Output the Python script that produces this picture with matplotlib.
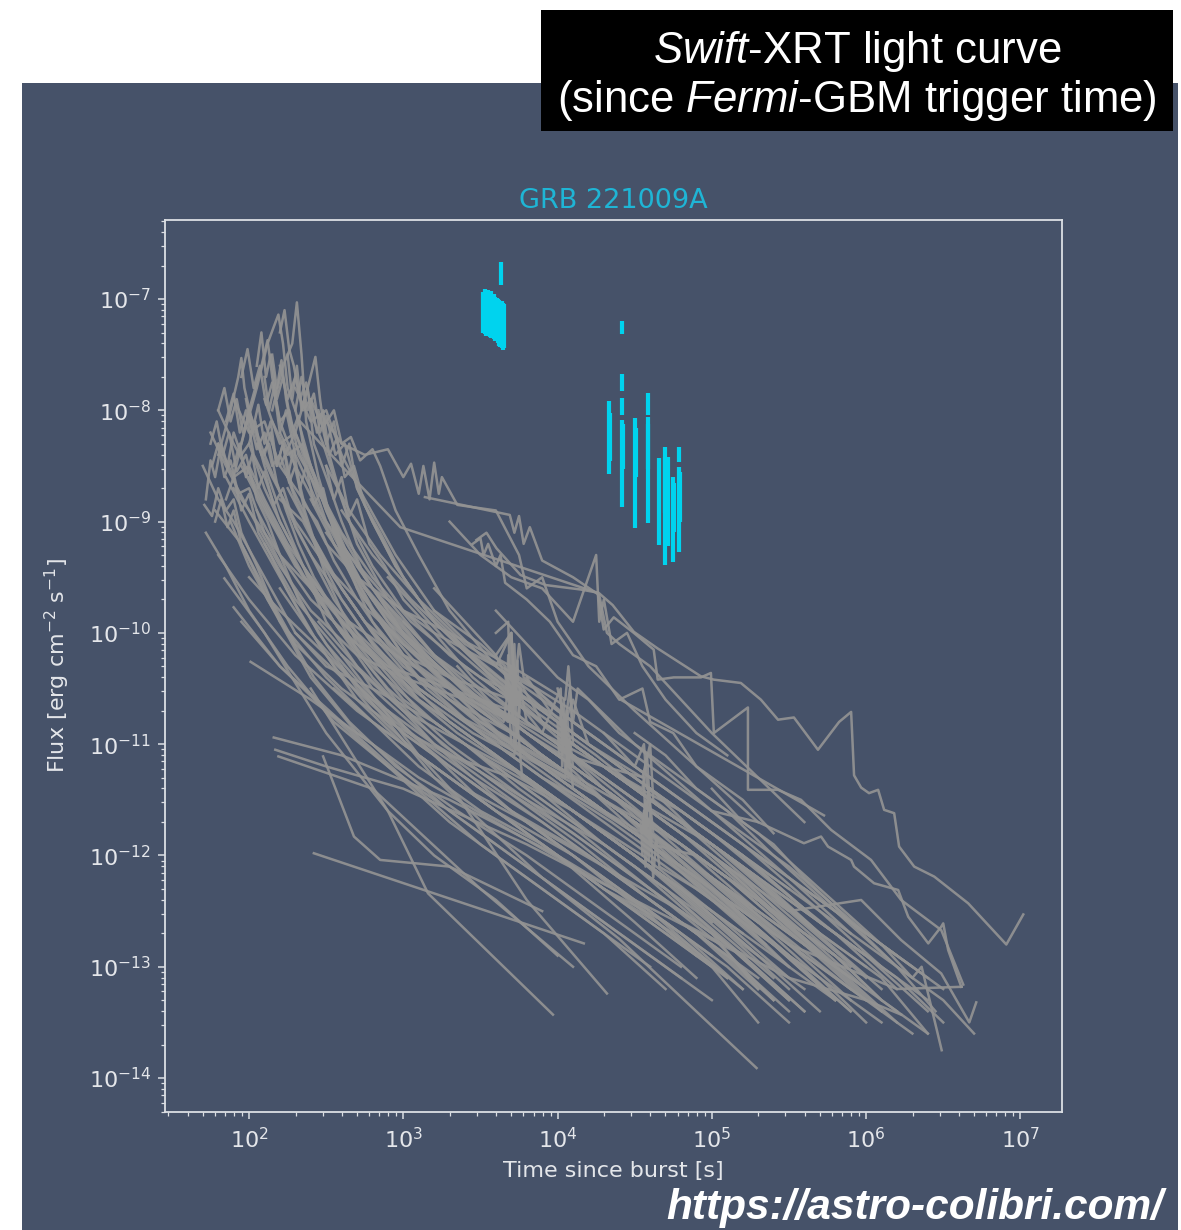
import numpy as np
import matplotlib
matplotlib.use("Agg")
import matplotlib.pyplot as plt
from matplotlib.patches import Rectangle
from matplotlib.ticker import LogLocator, NullFormatter, FixedLocator

# ---------------------------------------------------------------------------
# Archival Swift-XRT light curves, stored as (log10 t [s], log10 F [erg/cm2/s])
# ---------------------------------------------------------------------------
# early, flaring, bright bursts
lc_a1 = [(2.15,-8.0),(2.22,-7.6),(2.28,-7.4),(2.31,-7.03),(2.34,-7.5),(2.37,-8.1),(2.45,-8.6),(2.6,-9.3),(2.8,-9.9),(3.1,-10.4),(3.6,-10.9),(4.1,-11.3),(4.6,-11.8),(5.1,-12.3),(5.6,-12.9)]
lc_a2 = [(1.95,-8.3),(2.05,-7.8),(2.12,-7.4),(2.16,-7.25),(2.19,-7.14),(2.22,-7.4),(2.25,-7.8),(2.3,-8.0),(2.4,-8.5),(2.55,-9.0),(2.7,-9.6),(3.0,-10.2),(3.5,-10.8),(4.0,-11.2),(4.5,-11.6),(5.0,-12.1),(5.5,-12.6),(5.9,-13.0)]
lc_a3 = [(1.9,-8.6),(2.0,-8.0),(2.08,-7.6),(2.12,-7.37),(2.15,-7.7),(2.2,-8.1),(2.28,-8.4),(2.36,-8.9),(2.5,-9.5),(2.7,-10.1),(3.0,-10.6),(3.5,-11.1),(4.0,-11.5),(4.6,-12.1),(5.2,-12.7)]
lc_a4 = [(1.8,-8.4),(1.88,-8.0),(1.93,-7.7),(1.95,-7.53),(1.97,-7.8),(2.02,-8.1),(2.1,-8.5),(2.2,-8.9),(2.35,-9.4),(2.5,-9.9),(2.8,-10.5),(3.2,-11.0),(3.8,-11.5),(4.3,-11.9),(4.9,-12.5),(5.4,-13.1)]
lc_a5 = [(2.2,-8.5),(2.3,-8.2),(2.38,-7.8),(2.43,-7.52),(2.46,-7.9),(2.5,-8.3),(2.58,-8.7),(2.7,-9.2),(2.9,-9.7),(3.2,-10.2),(3.6,-10.6),(4.0,-11.0),(4.5,-11.5),(5.0,-11.9),(5.5,-12.4),(6.0,-12.9)]
lc_a6 = [(2.2,-7.6),(2.25,-7.9),(2.3,-7.7),(2.35,-8.0),(2.4,-7.9),(2.48,-8.15),(2.55,-8.0),(2.6,-8.3),(2.66,-8.24),(2.72,-8.45),(2.8,-8.35),(2.85,-8.5),(2.95,-8.9),(3.1,-9.3),(3.3,-9.8),(3.6,-10.3),(4.0,-10.8),(4.5,-11.3),(5.0,-11.8),(5.5,-12.3)]
lc_a7 = [(1.72,-8.8),(1.75,-8.45),(1.78,-8.6),(1.82,-8.3),(1.86,-8.5),(1.9,-8.2),(1.95,-8.4),(2.0,-8.3),(2.1,-8.7),(2.2,-9.0),(2.35,-9.4),(2.5,-9.8),(2.8,-10.4),(3.2,-11.0),(3.7,-11.6),(4.2,-12.0),(4.8,-12.6),(5.3,-13.1)]
lc_a8 = [(1.71,-8.85),(1.76,-8.95),(1.8,-8.7),(1.85,-8.9),(1.9,-8.8),(1.95,-9.1),(2.05,-9.4),(2.2,-9.9),(2.4,-10.4),(2.7,-10.9),(3.1,-11.3),(3.6,-11.7),(4.1,-12.1),(4.6,-12.6),(5.1,-13.1)]
lc_a9 = [(2.5,-8.1),(2.6,-8.3),(2.75,-8.4),(2.9,-8.35),(3.0,-8.6),(3.05,-8.48),(3.1,-8.75),(3.13,-8.5),(3.17,-8.8),(3.2,-8.47),(3.23,-8.75),(3.25,-8.6),(3.35,-8.85),(3.6,-8.9),(3.75,-9.3),(3.8,-9.6),(3.9,-9.5),(4.0,-9.9),(4.2,-10.3),(4.5,-10.7),(4.9,-11.2),(5.3,-11.7)]
lc_a10 = [(3.14,-8.78),(3.69,-8.94),(3.72,-9.1),(3.75,-8.95),(3.78,-9.2),(3.82,-9.05),(3.9,-9.35),(4.1,-9.5),(4.27,-9.66),(4.32,-10.0),(4.4,-10.1),(4.6,-10.3),(4.8,-10.6),(5.0,-10.9),(5.3,-11.3),(5.6,-11.7)]

# long-lived, bright late-time afterglows
lc_b1 = [(3.474,-9.165),(3.539,-9.10),(3.604,-9.24),(3.76,-9.48),(3.922,-9.57),(4.149,-9.61),(4.266,-9.64),(4.357,-9.75),(4.494,-9.99),(4.649,-10.14),(4.929,-10.39),(5.013,-10.42),(5.188,-10.45),(5.318,-10.60),(5.429,-10.78),(5.532,-10.76),(5.688,-11.05),(5.825,-10.80),(5.903,-10.71),(5.922,-11.28),(5.968,-11.39),(6.019,-11.44),(6.078,-11.41),(6.117,-11.59),(6.182,-11.62),(6.214,-11.92),(6.312,-12.10),(6.442,-12.19),(6.662,-12.43),(6.909,-12.80),(7.019,-12.53)]
lc_b2 = [(2.33,-8.1),(2.6,-8.5),(2.981,-9.05),(4.26,-9.64),(4.299,-9.97),(4.364,-9.86),(4.494,-10.00),(4.623,-10.15),(4.649,-10.42),(4.753,-10.40),(4.929,-10.40),(4.994,-10.36),(5.013,-10.90),(5.234,-10.67),(5.234,-11.41),(5.429,-11.41),(5.578,-11.50),(5.773,-11.77),(6.032,-12.04),(6.227,-12.40),(6.487,-12.67),(6.63,-13.16)]
lc_b3 = [(3.3,-9.0),(3.5,-9.3),(3.7,-9.5),(3.9,-9.6),(4.1,-9.9),(4.25,-9.3),(4.27,-9.9),(4.3,-9.7),(4.35,-10.1),(4.45,-10.0),(4.55,-10.3),(4.7,-10.6),(4.9,-10.9),(5.1,-11.1)]
lc_b4 = [(3.45,-9.2),(3.5,-9.15),(3.52,-9.3),(3.55,-9.2),(3.6,-9.4),(3.63,-9.3),(3.66,-9.55),(3.8,-9.7),(3.95,-9.9),(4.1,-10.2),(4.25,-10.3),(4.4,-10.6),(4.55,-10.5),(4.6,-10.8),(4.75,-10.9),(4.9,-11.2),(5.2,-11.5),(5.4,-11.8)]

# canonical steep-decay / plateau / normal-decay light curves
lc_c01 = [(1.75,-8.2),(1.85,-8.5),(2.0,-8.9),(2.2,-9.4),(2.4,-9.8),(2.7,-10.2),(3.0,-10.4),(3.4,-10.6),(3.7,-10.9),(4.0,-11.2),(4.4,-11.6),(4.8,-12.1),(5.2,-12.6),(5.5,-13.0)]
lc_c02 = [(1.8,-8.0),(1.9,-8.3),(2.05,-8.7),(2.2,-9.1),(2.4,-9.6),(2.6,-10.0),(2.9,-10.3),(3.3,-10.5),(3.7,-10.7),(3.72,-10.4),(3.74,-10.9),(3.76,-10.5),(3.8,-10.8),(4.1,-11.1),(4.5,-11.5),(5.0,-12.0),(5.4,-12.5),(5.8,-13.0)]
lc_c03 = [(1.7,-8.5),(1.8,-8.8),(1.9,-9.0),(2.1,-9.5),(2.3,-10.0),(2.5,-10.3),(2.8,-10.5),(3.2,-10.8),(3.6,-11.2),(4.0,-11.6),(4.5,-12.1),(5.0,-12.7),(5.3,-13.2)]
lc_c04 = [(1.9,-7.9),(2.0,-8.2),(2.1,-8.1),(2.2,-8.5),(2.35,-8.8),(2.5,-9.2),(2.7,-9.5),(3.0,-9.8),(3.3,-10.0),(3.7,-10.3),(4.05,-10.6),(4.07,-10.3),(4.1,-10.8),(4.13,-10.5),(4.5,-11.0),(5.0,-11.6),(5.5,-12.2),(5.9,-12.7)]
lc_c05 = [(2.0,-8.0),(2.1,-8.4),(2.25,-8.9),(2.4,-9.3),(2.6,-9.7),(2.8,-10.1),(3.1,-10.5),(3.5,-10.9),(3.9,-11.3),(4.3,-11.6),(4.55,-11.8),(4.57,-11.5),(4.6,-11.9),(4.9,-12.2),(5.3,-12.6),(5.7,-13.1)]
lc_c06 = [(1.85,-8.6),(2.0,-9.0),(2.2,-9.5),(2.45,-10.1),(2.7,-10.6),(3.0,-11.0),(3.4,-11.4),(3.8,-11.7),(4.3,-12.1),(4.8,-12.5),(5.2,-12.9),(5.6,-13.4)]
lc_c07 = [(2.05,-8.3),(2.15,-8.6),(2.3,-9.0),(2.5,-9.4),(2.75,-9.9),(3.0,-10.2),(3.3,-10.4),(3.7,-10.6),(4.0,-10.9),(4.5,-11.4),(5.0,-11.9),(5.5,-12.5),(6.0,-13.1)]
lc_c08 = [(2.1,-7.9),(2.2,-8.3),(2.3,-8.2),(2.4,-8.6),(2.55,-9.0),(2.8,-9.6),(3.1,-10.1),(3.5,-10.6),(3.9,-11.0),(4.3,-11.4),(4.8,-11.9),(5.3,-12.4),(5.8,-12.9),(6.1,-13.3)]
lc_c09 = [(1.78,-8.9),(1.95,-9.2),(2.1,-9.6),(2.3,-10.1),(2.6,-10.5),(2.9,-10.8),(3.3,-11.1),(3.7,-11.3),(4.1,-11.6),(4.6,-12.1),(5.1,-12.7),(5.5,-13.2)]
lc_c10 = [(2.2,-8.2),(2.3,-8.5),(2.45,-8.9),(2.65,-9.3),(2.9,-9.7),(3.2,-10.0),(3.6,-10.3),(3.7,-10.0),(3.72,-10.5),(3.75,-10.1),(3.78,-10.4),(4.0,-10.7),(4.4,-11.1),(4.9,-11.6),(5.4,-12.1),(5.9,-12.6),(6.3,-13.0)]
lc_c11 = [(1.95,-8.5),(2.1,-8.9),(2.3,-9.4),(2.6,-9.9),(2.9,-10.3),(3.3,-10.7),(3.7,-11.0),(4.05,-11.3),(4.07,-11.0),(4.1,-11.4),(4.5,-11.8),(5.0,-12.3),(5.4,-12.8),(5.8,-13.3)]
lc_c12 = [(2.3,-8.3),(2.4,-8.6),(2.55,-9.0),(2.7,-9.5),(2.9,-9.9),(3.2,-10.3),(3.5,-10.6),(3.9,-10.9),(4.3,-11.2),(4.55,-11.4),(4.58,-11.1),(4.6,-11.6),(5.0,-12.0),(5.4,-12.5),(5.8,-13.0),(6.2,-13.5)]
lc_c13 = [(1.88,-9.0),(2.0,-9.4),(2.2,-9.9),(2.5,-10.4),(2.8,-10.8),(3.2,-11.2),(3.6,-11.6),(4.1,-12.0),(4.6,-12.5),(5.1,-13.1)]
lc_c14 = [(2.0,-8.6),(2.15,-9.0),(2.35,-9.5),(2.6,-10.0),(2.9,-10.5),(3.3,-11.0),(3.7,-11.4),(4.2,-11.9),(4.7,-12.4),(5.2,-12.9),(5.6,-13.4)]
lc_c15 = [(2.3,-7.8),(2.4,-8.1),(2.5,-8.0),(2.6,-8.4),(2.75,-8.8),(2.95,-9.3),(3.2,-9.8),(3.5,-10.2),(3.9,-10.6),(4.3,-11.0),(4.7,-11.4),(5.2,-11.9),(5.7,-12.4),(6.2,-12.9)]
lc_c16 = [(2.4,-8.8),(2.55,-9.2),(2.75,-9.6),(3.0,-10.0),(3.3,-10.4),(3.65,-10.8),(3.68,-10.5),(3.7,-11.0),(4.0,-11.3),(4.4,-11.7),(4.9,-12.2),(5.4,-12.8),(5.8,-13.3)]
lc_c17 = [(2.5,-9.1),(2.7,-9.5),(3.0,-10.0),(3.3,-10.5),(3.7,-11.0),(4.1,-11.4),(4.5,-11.8),(5.0,-12.3),(5.5,-12.9),(5.9,-13.4)]
lc_c18 = [(1.8,-9.3),(2.0,-9.7),(2.3,-10.2),(2.7,-10.7),(3.1,-11.1),(3.5,-11.5),(4.0,-12.0),(4.5,-12.6),(4.9,-13.1)]
lc_c19 = [(2.1,-9.2),(2.3,-9.7),(2.6,-10.2),(3.0,-10.7),(3.4,-11.0),(3.8,-11.3),(4.2,-11.7),(4.7,-12.2),(5.2,-12.8),(5.6,-13.2)]
lc_c20 = [(2.6,-8.9),(2.8,-9.3),(3.05,-9.7),(3.35,-10.1),(3.7,-10.5),(4.05,-10.8),(4.08,-10.5),(4.1,-11.0),(4.5,-11.4),(5.0,-11.9),(5.5,-12.4),(6.0,-12.9),(6.4,-13.3)]
lc_c21 = [(1.9,-8.7),(2.05,-9.0),(2.2,-9.3),(2.4,-9.6),(2.65,-9.9),(2.95,-10.2),(3.3,-10.5),(3.7,-10.8),(4.1,-11.2),(4.5,-11.6),(5.0,-12.2),(5.5,-12.8),(5.9,-13.3)]
lc_c22 = [(2.25,-8.7),(2.4,-9.1),(2.6,-9.6),(2.85,-10.1),(3.1,-10.5),(3.5,-10.9),(3.9,-11.2),(4.3,-11.5),(4.8,-11.9),(5.3,-12.4),(5.7,-12.9),(6.1,-13.4)]
lc_c23 = [(2.0,-9.5),(2.2,-9.8),(2.5,-10.2),(2.8,-10.6),(3.2,-11.0),(3.6,-11.4),(4.0,-11.8),(4.5,-12.3),(5.0,-12.8),(5.4,-13.3)]
lc_c24 = [(2.7,-9.4),(2.9,-9.8),(3.15,-10.2),(3.45,-10.6),(3.8,-11.0),(4.2,-11.4),(4.6,-11.8),(5.1,-12.3),(5.6,-12.8),(6.0,-13.2)]
lc_c25 = [(2.15,-8.1),(2.25,-8.4),(2.35,-8.3),(2.45,-8.7),(2.6,-9.1),(2.8,-9.5),(3.05,-9.9),(3.4,-10.3),(3.8,-10.7),(4.2,-11.1),(4.6,-11.5),(5.1,-12.0),(5.6,-12.6),(6.1,-13.2)]
lc_c26 = [(1.72,-9.1),(1.85,-9.4),(2.0,-9.8),(2.25,-10.3),(2.55,-10.8),(2.9,-11.2),(3.3,-11.6),(3.8,-12.1),(4.3,-12.6),(4.8,-13.1)]
lc_c27 = [(2.35,-9.4),(2.55,-9.8),(2.8,-10.2),(3.1,-10.6),(3.5,-11.0),(3.9,-11.4),(4.3,-11.8),(4.8,-12.3),(5.3,-12.9),(5.7,-13.4)]
lc_c28 = [(2.8,-9.8),(3.0,-10.1),(3.3,-10.5),(3.6,-10.9),(4.0,-11.3),(4.4,-11.7),(4.9,-12.2),(5.4,-12.7),(5.9,-13.2),(6.3,-13.6)]
lc_c29 = [(2.05,-8.9),(2.2,-9.3),(2.4,-9.7),(2.7,-10.1),(3.05,-10.5),(3.45,-10.9),(3.72,-11.1),(3.74,-10.8),(3.77,-11.3),(4.1,-11.6),(4.55,-12.0),(5.0,-12.5),(5.5,-13.1)]
lc_c30 = [(3.0,-10.4),(3.3,-10.8),(3.6,-11.1),(4.0,-11.5),(4.4,-11.9),(4.8,-12.3),(5.3,-12.8),(5.8,-13.3)]
lc_c31 = [(2.5,-8.5),(2.65,-8.9),(2.85,-9.3),(3.1,-9.7),(3.4,-10.1),(3.75,-10.4),(4.1,-10.7),(4.5,-11.1),(5.0,-11.6),(5.5,-12.1),(6.0,-12.7),(6.4,-13.1)]
lc_c32 = [(2.3,-10.0),(2.6,-10.4),(3.0,-10.9),(3.4,-11.3),(3.8,-11.7),(4.3,-12.2),(4.8,-12.7),(5.2,-13.2)]
lc_c33 = [(3.6,-10.2),(3.7,-10.5),(3.9,-10.7),(4.2,-11.0),(4.55,-11.3),(4.6,-11.0),(4.62,-11.5),(5.0,-11.9),(5.5,-12.4),(6.0,-12.9),(6.4,-13.4)]
lc_c34 = [(1.95,-9.9),(2.2,-10.3),(2.5,-10.7),(2.9,-11.2),(3.3,-11.7),(3.8,-12.2),(4.3,-12.7),(4.7,-13.2)]
lc_c35 = [(2.2,-8.8),(2.35,-9.0),(2.5,-9.4),(2.7,-9.7),(3.0,-10.1),(3.4,-10.5),(3.85,-10.9),(4.3,-11.3),(4.8,-11.8),(5.3,-12.4),(5.8,-13.0)]
lc_c36 = [(4.0,-10.5),(4.05,-10.8),(4.1,-10.6),(4.2,-11.0),(4.5,-11.3),(4.9,-11.7),(5.4,-12.2),(5.9,-12.7),(6.3,-13.1)]
lc_c37 = [(2.6,-9.6),(2.8,-10.0),(3.1,-10.4),(3.5,-10.9),(3.9,-11.3),(4.3,-11.7),(4.7,-12.1),(5.2,-12.6),(5.7,-13.1),(6.1,-13.5)]
lc_c38 = [(1.8,-8.3),(1.9,-8.6),(2.0,-8.5),(2.1,-8.8),(2.25,-9.2),(2.45,-9.6),(2.7,-10.0),(3.0,-10.4),(3.4,-10.8),(3.8,-11.1),(4.2,-11.4),(4.7,-11.9),(5.2,-12.4),(5.7,-12.9)]
lc_c39 = [(2.45,-9.9),(2.7,-10.3),(3.0,-10.7),(3.35,-11.1),(3.75,-11.5),(4.15,-11.9),(4.6,-12.4),(5.1,-12.9),(5.5,-13.4)]
lc_c40 = [(3.3,-10.0),(3.5,-10.3),(3.7,-10.6),(4.0,-10.9),(4.4,-11.3),(4.8,-11.6),(5.2,-12.0),(5.7,-12.6),(6.2,-13.1),(6.5,-13.5)]

# faint and sparsely sampled bursts
lc_d01 = [(1.84,-9.51),(2.1,-10.0),(2.5,-10.9),(2.9,-11.6),(3.2,-12.0),(3.6,-12.4),(4.0,-12.9)]
lc_d02 = [(1.90,-9.77),(2.2,-10.3),(2.6,-10.8),(3.0,-11.3),(3.5,-11.9),(4.0,-12.4),(4.6,-13.0)]
lc_d03 = [(2.01,-10.26),(2.4,-10.6),(2.8,-11.0),(3.3,-11.6),(3.9,-12.2),(4.5,-12.8),(5.0,-13.3)]
lc_d04 = [(2.16,-10.94),(2.6,-11.1),(3.3,-11.5),(4.0,-12.0),(4.6,-12.5),(5.0,-12.9)]
lc_d05 = [(2.17,-11.05),(2.5,-11.2),(3.0,-11.4),(3.8,-11.9),(4.5,-12.4),(5.2,-12.9)]
lc_d06 = [(2.19,-11.11),(2.8,-11.4),(3.5,-12.3),(4.1,-13.0)]
lc_d07 = [(2.42,-11.98),(4.17,-12.79)]
lc_d08 = [(2.4,-10.5),(2.9,-11.6),(3.16,-12.34),(3.97,-13.43)]
lc_d09 = [(2.6,-10.2),(3.1,-11.1),(3.37,-11.5),(3.8,-12.4),(4.32,-13.24)]
lc_d10 = [(2.6,-10.3),(3.2,-11.3),(3.9,-12.2),(4.4,-12.75),(5.29,-13.91)]
lc_d11 = [(2.48,-11.11),(2.68,-11.83),(2.85,-12.04),(3.3,-12.1),(3.9,-12.5)]
lc_d12 = [(5.6,-12.3),(5.9,-12.6),(6.1,-12.8),(6.3,-13.1),(6.36,-13.0),(6.49,-13.75)]
lc_d13 = [(5.0,-12.0),(5.5,-12.5),(5.968,-12.40),(6.227,-12.76),(6.487,-13.06),(6.669,-13.50),(6.714,-13.32)]
lc_d14 = [(5.0,-11.6),(5.3,-11.7),(5.597,-11.89),(5.708,-11.83),(5.753,-11.92),(5.903,-12.04),(5.922,-12.10),(6.052,-12.25),(6.208,-12.31),(6.273,-12.55),(6.403,-12.79),(6.487,-12.64),(6.5,-12.61),(6.532,-12.85),(6.617,-13.18)]
lc_d15 = [(4.409,-10.60),(5.727,-11.64)]
lc_d16 = [(4.8,-12.6),(5.5,-13.1),(6.0,-13.3),(6.227,-13.43)]
lc_d17 = [(5.5,-12.8),(6.2,-13.2),(6.62,-13.18)]

# densely sampled orbits (rapid variability)
lc_f1 = [(3.2,-9.8),(3.5,-10.1),(3.66,-10.3),(3.67,-10.6),(3.68,-10.2),(3.69,-10.7),(3.70,-10.3),(3.71,-10.8),(3.72,-10.4),(3.73,-10.65),(3.74,-10.25),(3.75,-10.75),(3.76,-10.45),(3.9,-10.8),(4.2,-11.1),(4.6,-11.5),(5.1,-12.0),(5.6,-12.6),(6.0,-13.0)]
lc_f2 = [(3.5,-10.4),(3.8,-10.6),(4.0,-10.8),(4.01,-11.1),(4.02,-10.7),(4.03,-11.2),(4.04,-10.8),(4.05,-11.25),(4.06,-10.9),(4.07,-11.3),(4.08,-10.95),(4.1,-11.2),(4.4,-11.5),(4.8,-11.9),(5.3,-12.4),(5.8,-12.9)]
lc_f3 = [(4.0,-11.0),(4.3,-11.4),(4.54,-11.7),(4.55,-12.0),(4.56,-11.6),(4.57,-12.1),(4.58,-11.7),(4.59,-12.05),(4.6,-11.75),(4.62,-12.2),(4.64,-11.85),(4.66,-12.1),(4.9,-12.3),(5.3,-12.7),(5.7,-13.1),(6.0,-13.5)]
lc_f4 = [(3.6,-10.0),(3.68,-9.9),(3.69,-10.4),(3.7,-10.0),(3.71,-10.5),(3.72,-10.1),(3.73,-10.6),(3.9,-10.9),(4.02,-10.5),(4.03,-11.0),(4.04,-10.6),(4.06,-11.1),(4.3,-11.2),(4.56,-11.3),(4.57,-11.8),(4.59,-11.4),(4.61,-11.9),(4.9,-12.0),(5.4,-12.5),(5.9,-13.1)]
lc_g1 = [(1.98,-7.9),(2.02,-8.2),(2.06,-7.95),(2.1,-8.3),(2.14,-8.1),(2.18,-8.5),(2.22,-8.3),(2.28,-8.7),(2.35,-8.9),(2.45,-9.3),(2.6,-9.7),(2.8,-10.1),(3.1,-10.6),(3.5,-11.0),(4.0,-11.5),(4.5,-12.0),(5.0,-12.6)]
lc_g2 = [(2.25,-7.5),(2.28,-7.9),(2.31,-7.6),(2.34,-8.0),(2.38,-7.8),(2.42,-8.3),(2.5,-8.6),(2.6,-9.0),(2.75,-9.5),(3.0,-10.0),(3.3,-10.4),(3.7,-10.8),(4.1,-11.2),(4.6,-11.7),(5.1,-12.2),(5.6,-12.8)]
lc_g3 = [(2.1,-7.7),(2.13,-8.0),(2.16,-7.8),(2.2,-8.2),(2.24,-8.0),(2.3,-8.4),(2.4,-8.7),(2.55,-9.2),(2.75,-9.7),(3.0,-10.1),(3.4,-10.6),(3.8,-11.0),(4.3,-11.5),(4.8,-12.0),(5.3,-12.6)]
lc_g4 = [(1.85,-8.1),(1.9,-7.85),(1.94,-8.2),(1.98,-8.0),(2.03,-8.4),(2.1,-8.6),(2.2,-9.0),(2.35,-9.4),(2.55,-9.9),(2.8,-10.3),(3.2,-10.8),(3.7,-11.3),(4.2,-11.8),(4.7,-12.3),(5.2,-12.9)]
lc_g5 = [(2.45,-8.0),(2.5,-8.3),(2.55,-8.1),(2.6,-8.5),(2.65,-8.3),(2.7,-8.7),(2.8,-9.0),(2.95,-9.4),(3.2,-9.9),(3.5,-10.3),(3.9,-10.8),(4.3,-11.2),(4.8,-11.7),(5.3,-12.3),(5.8,-12.9)]
lc_g6 = [(1.76,-8.5),(1.8,-8.3),(1.84,-8.6),(1.88,-8.45),(1.93,-8.75),(2.0,-8.7),(2.1,-9.1),(2.25,-9.5),(2.45,-10.0),(2.7,-10.5),(3.0,-10.9),(3.4,-11.3),(3.9,-11.8),(4.4,-12.3),(4.9,-12.9)]

# more early, flickering bursts
lc_h01 = [(1.80,-8.0),(1.84,-7.8),(1.88,-8.1),(1.92,-7.9),(1.96,-8.2),(2.0,-8.05),(2.05,-8.35),(2.1,-8.2),(2.15,-8.5),(2.2,-8.4),(2.3,-8.8),(2.4,-9.1),(2.55,-9.5),(2.75,-9.9),(3.0,-10.3),(3.3,-10.6),(3.7,-10.9),(4.1,-11.3),(4.6,-11.8),(5.1,-12.4)]
lc_h02 = [(1.95,-7.7),(1.99,-7.45),(2.03,-7.8),(2.07,-7.6),(2.11,-7.95),(2.15,-7.75),(2.2,-8.1),(2.26,-8.0),(2.32,-8.4),(2.4,-8.6),(2.5,-9.0),(2.65,-9.4),(2.85,-9.9),(3.1,-10.3),(3.5,-10.7),(3.9,-11.1),(4.4,-11.6),(4.9,-12.1),(5.4,-12.7)]
lc_h03 = [(2.05,-7.6),(2.08,-7.3),(2.11,-7.7),(2.14,-7.5),(2.18,-7.9),(2.22,-7.7),(2.27,-8.1),(2.33,-8.3),(2.4,-8.5),(2.5,-8.9),(2.62,-9.3),(2.8,-9.7),(3.05,-10.1),(3.4,-10.5),(3.8,-10.9),(4.3,-11.4),(4.8,-11.9),(5.3,-12.5)]
lc_h04 = [(2.2,-7.3),(2.23,-7.1),(2.26,-7.45),(2.29,-7.6),(2.33,-7.9),(2.37,-7.75),(2.42,-8.1),(2.48,-8.3),(2.55,-8.6),(2.65,-9.0),(2.8,-9.4),(3.0,-9.8),(3.3,-10.2),(3.7,-10.6),(4.1,-11.0),(4.6,-11.5),(5.1,-12.0),(5.6,-12.6)]
lc_h05 = [(1.9,-8.5),(1.94,-8.3),(1.98,-8.6),(2.02,-8.4),(2.06,-8.7),(2.1,-8.55),(2.16,-8.85),(2.22,-8.7),(2.3,-9.05),(2.4,-9.3),(2.55,-9.7),(2.75,-10.1),(3.0,-10.5),(3.35,-10.9),(3.8,-11.3),(4.3,-11.8),(4.8,-12.3),(5.3,-12.9)]
lc_h06 = [(2.3,-8.0),(2.34,-7.7),(2.38,-8.0),(2.42,-7.85),(2.46,-8.2),(2.5,-8.05),(2.56,-8.4),(2.62,-8.3),(2.7,-8.7),(2.8,-9.0),(2.95,-9.4),(3.15,-9.8),(3.45,-10.2),(3.8,-10.6),(4.2,-11.0),(4.7,-11.5),(5.2,-12.0),(5.7,-12.6)]
lc_h07 = [(1.75,-8.3),(1.79,-8.1),(1.83,-8.4),(1.87,-8.2),(1.92,-8.55),(1.98,-8.4),(2.05,-8.8),(2.12,-9.0),(2.2,-9.3),(2.32,-9.7),(2.5,-10.1),(2.75,-10.5),(3.05,-10.9),(3.45,-11.3),(3.9,-11.7),(4.4,-12.2),(4.9,-12.7),(5.3,-13.2)]
lc_h08 = [(2.1,-8.4),(2.14,-8.2),(2.18,-8.5),(2.22,-8.3),(2.26,-8.65),(2.3,-8.5),(2.36,-8.85),(2.44,-9.0),(2.55,-9.35),(2.7,-9.7),(2.9,-10.1),(3.15,-10.5),(3.5,-10.9),(3.9,-11.3),(4.35,-11.7),(4.85,-12.2),(5.35,-12.8)]
lc_h09 = [(2.4,-7.9),(2.44,-8.2),(2.48,-8.0),(2.52,-8.4),(2.57,-8.25),(2.62,-8.6),(2.68,-8.5),(2.75,-8.85),(2.85,-9.1),(3.0,-9.5),(3.2,-9.9),(3.5,-10.3),(3.85,-10.7),(4.25,-11.1),(4.7,-11.6),(5.2,-12.1),(5.7,-12.7)]
lc_h10 = [(1.85,-8.8),(1.9,-8.6),(1.95,-8.9),(2.0,-8.75),(2.06,-9.1),(2.14,-9.3),(2.24,-9.6),(2.38,-9.95),(2.55,-10.3),(2.8,-10.7),(3.1,-11.1),(3.5,-11.5),(4.0,-12.0),(4.5,-12.5),(5.0,-13.0)]
lc_h11 = [(2.15,-7.5),(2.18,-7.8),(2.21,-7.55),(2.24,-7.9),(2.28,-8.2),(2.32,-8.05),(2.36,-8.4),(2.42,-8.6),(2.5,-8.9),(2.6,-9.2),(2.75,-9.6),(2.95,-10.0),(3.25,-10.4),(3.6,-10.8),(4.0,-11.2),(4.5,-11.7),(5.0,-12.3),(5.5,-12.9)]
lc_h12 = [(2.0,-8.3),(2.04,-8.1),(2.08,-8.4),(2.13,-8.3),(2.18,-8.65),(2.24,-8.9),(2.32,-9.2),(2.42,-9.5),(2.55,-9.8),(2.72,-10.2),(2.95,-10.6),(3.25,-11.0),(3.65,-11.4),(4.1,-11.8),(4.6,-12.3),(5.1,-12.8),(5.5,-13.3)]
lc_h13 = [(2.5,-8.5),(2.55,-8.8),(2.6,-8.6),(2.65,-8.95),(2.7,-8.8),(2.78,-9.2),(2.88,-9.4),(3.0,-9.7),(3.2,-10.0),(3.45,-10.4),(3.8,-10.8),(4.2,-11.2),(4.6,-11.6),(5.1,-12.1),(5.6,-12.7),(6.0,-13.2)]
lc_h14 = [(1.78,-9.0),(1.82,-8.8),(1.86,-9.05),(1.9,-8.9),(1.95,-9.2),(2.02,-9.4),(2.12,-9.7),(2.25,-10.0),(2.42,-10.4),(2.65,-10.8),(2.95,-11.2),(3.35,-11.6),(3.8,-12.0),(4.3,-12.5),(4.8,-13.0)]
lc_h15 = [(2.25,-8.6),(2.29,-8.35),(2.33,-8.7),(2.37,-8.5),(2.42,-8.85),(2.48,-8.7),(2.55,-9.1),(2.65,-9.4),(2.8,-9.8),(3.0,-10.2),(3.3,-10.6),(3.65,-11.0),(4.05,-11.4),(4.5,-11.8),(5.0,-12.3),(5.5,-12.9)]

# intermediate and late-starting bursts
lc_i01 = [(2.6,-9.2),(2.8,-9.6),(3.0,-9.9),(3.2,-10.2),(3.45,-10.5),(3.7,-10.8),(3.71,-10.5),(3.73,-10.9),(3.9,-11.1),(4.2,-11.4),(4.6,-11.9),(5.0,-12.4),(5.5,-13.0)]
lc_i02 = [(2.9,-9.5),(3.1,-9.8),(3.3,-10.1),(3.55,-10.4),(3.8,-10.7),(4.05,-11.0),(4.06,-10.7),(4.08,-11.1),(4.35,-11.4),(4.7,-11.8),(5.1,-12.2),(5.6,-12.8),(6.0,-13.3)]
lc_i03 = [(3.2,-9.6),(3.4,-9.9),(3.6,-10.2),(3.7,-10.0),(3.72,-10.4),(3.85,-10.5),(4.1,-10.8),(4.4,-11.1),(4.8,-11.5),(5.2,-11.9),(5.7,-12.5),(6.1,-13.0)]
lc_i04 = [(2.75,-10.0),(3.0,-10.4),(3.3,-10.8),(3.6,-11.1),(3.95,-11.5),(4.3,-11.9),(4.7,-12.3),(5.1,-12.8),(5.5,-13.3)]
lc_i05 = [(3.5,-10.6),(3.7,-10.8),(3.9,-11.0),(4.1,-11.2),(4.4,-11.5),(4.57,-11.7),(4.59,-11.4),(4.62,-11.8),(4.9,-12.1),(5.3,-12.5),(5.8,-13.0),(6.2,-13.4)]
lc_i06 = [(2.4,-9.5),(2.6,-9.9),(2.85,-10.3),(3.1,-10.7),(3.4,-11.0),(3.75,-11.4),(4.15,-11.8),(4.6,-12.3),(5.05,-12.8),(5.4,-13.3)]
lc_i07 = [(3.0,-9.9),(3.2,-10.2),(3.4,-10.5),(3.68,-10.8),(3.7,-10.5),(3.72,-11.0),(4.0,-11.3),(4.3,-11.6),(4.6,-11.9),(4.95,-12.3),(5.4,-12.8),(5.9,-13.4)]
lc_i08 = [(3.8,-10.4),(3.95,-10.7),(4.1,-10.9),(4.3,-11.1),(4.6,-11.4),(4.9,-11.8),(5.3,-12.2),(5.7,-12.7),(6.1,-13.1),(6.4,-13.6)]
lc_i09 = [(2.2,-9.6),(2.4,-10.0),(2.65,-10.4),(2.95,-10.8),(3.3,-11.2),(3.7,-11.6),(4.1,-12.0),(4.55,-12.5),(5.0,-13.0),(5.3,-13.5)]
lc_i10 = [(4.0,-11.3),(4.2,-11.5),(4.5,-11.8),(4.8,-12.1),(5.2,-12.5),(5.6,-12.9),(6.0,-13.3)]
lc_i11 = [(3.35,-10.3),(3.55,-10.6),(3.8,-10.9),(4.03,-11.1),(4.05,-10.8),(4.07,-11.2),(4.3,-11.5),(4.6,-11.8),(5.0,-12.2),(5.45,-12.7),(5.9,-13.2)]
lc_i12 = [(2.55,-10.5),(2.8,-10.8),(3.1,-11.2),(3.5,-11.6),(3.9,-11.9),(4.3,-12.3),(4.75,-12.7),(5.2,-13.2)]
lc_i13 = [(4.3,-10.9),(4.5,-11.2),(4.56,-11.0),(4.58,-11.4),(4.7,-11.5),(5.0,-11.8),(5.35,-12.2),(5.8,-12.7),(6.2,-13.2)]
lc_i14 = [(2.9,-10.7),(3.2,-11.1),(3.5,-11.5),(3.9,-11.9),(4.3,-12.3),(4.7,-12.6),(5.1,-13.0),(5.5,-13.5)]
lc_i15 = [(4.5,-10.9),(4.7,-11.1),(4.9,-11.4),(5.1,-11.6),(5.4,-12.0),(5.8,-12.5),(6.2,-13.0),(6.45,-13.4)]
lc_i16 = [(5.0,-11.4),(5.2,-11.7),(5.4,-11.9),(5.6,-12.2),(5.9,-12.6),(6.2,-13.0),(6.5,-13.3),(6.7,-13.6)]
lc_i17 = [(3.6,-9.8),(3.8,-10.1),(4.0,-10.4),(4.2,-10.6),(4.4,-10.9),(4.7,-11.2),(5.0,-11.5),(5.3,-11.8),(5.7,-12.3),(6.1,-12.8),(6.5,-13.2)]
lc_i18 = [(4.6,-11.6),(4.9,-11.9),(5.2,-12.2),(5.5,-12.6),(5.8,-12.9),(6.1,-13.3),(6.4,-13.6)]

archive_curves = [
    lc_a1, lc_a2, lc_a3, lc_a4, lc_a5, lc_a6, lc_a7, lc_a8, lc_a9, lc_a10,
    lc_b1, lc_b2, lc_b3, lc_b4,
    lc_c01, lc_c02, lc_c03, lc_c04, lc_c05, lc_c06, lc_c07, lc_c08, lc_c09, lc_c10,
    lc_c11, lc_c12, lc_c13, lc_c14, lc_c15, lc_c16, lc_c17, lc_c18, lc_c19, lc_c20,
    lc_c21, lc_c22, lc_c23, lc_c24, lc_c25, lc_c26, lc_c27, lc_c28, lc_c29, lc_c30,
    lc_c31, lc_c32, lc_c33, lc_c34, lc_c35, lc_c36, lc_c37, lc_c38, lc_c39, lc_c40,
    lc_d01, lc_d02, lc_d03, lc_d04, lc_d05, lc_d06, lc_d07, lc_d08, lc_d09, lc_d10,
    lc_d11, lc_d12, lc_d13, lc_d14, lc_d15, lc_d16, lc_d17,
    lc_f1, lc_f2, lc_f3, lc_f4, lc_g1, lc_g2, lc_g3, lc_g4, lc_g5, lc_g6,
    lc_h01, lc_h02, lc_h03, lc_h04, lc_h05, lc_h06, lc_h07, lc_h08, lc_h09, lc_h10,
    lc_h11, lc_h12, lc_h13, lc_h14, lc_h15,
    lc_i01, lc_i02, lc_i03, lc_i04, lc_i05, lc_i06, lc_i07, lc_i08, lc_i09, lc_i10,
    lc_i11, lc_i12, lc_i13, lc_i14, lc_i15, lc_i16, lc_i17, lc_i18,
]

# ---------------------------------------------------------------------------
# GRB 221009A, Swift-XRT (time since Fermi-GBM trigger)
# ---------------------------------------------------------------------------
grb_t = [3300, 3380, 3460, 3540, 3620, 3700, 3780, 3860, 3940, 4020, 4100, 4180, 4260, 4270, 4340, 4420, 4500,
         21500, 22000, 26000, 26200, 26200, 26200, 26400, 31600, 32000, 38400, 38400, 38800,
         45300, 49500, 50000, 52000, 55800, 56500, 61100, 61100, 61800]
grb_flux = [7.5e-8, 7.6e-8, 7.3e-8, 7.7e-8, 7.1e-8, 7.3e-8, 7.0e-8, 7.0e-8, 6.6e-8, 6.6e-8, 6.3e-8, 6.1e-8, 5.9e-8, 1.7e-7, 5.9e-8, 5.7e-8, 5.7e-8,
            6.5e-9, 6.0e-9, 4.5e-9, 5.6e-8, 1.8e-8, 1.1e-8, 5.0e-9, 4.0e-9, 4.5e-9, 1.15e-8, 4.5e-9, 5.0e-9,
            2.0e-9, 2.4e-9, 2.5e-9, 2.0e-9, 1.4e-9, 1.5e-9, 4.0e-9, 1.8e-9, 1.9e-9]
grb_flux_lo = [4.9e-8, 4.8e-8, 4.7e-8, 4.9e-8, 4.6e-8, 4.5e-8, 4.6e-8, 4.4e-8, 4.2e-8, 4.3e-8, 4.0e-8, 3.8e-8, 3.7e-8, 1.34e-7, 3.6e-8, 3.5e-8, 3.6e-8,
               2.7e-9, 3.5e-9, 1.35e-9, 4.8e-8, 1.5e-8, 9.1e-9, 3.0e-9, 8.7e-10, 2.5e-9, 9.1e-9, 9.8e-10, 3.0e-9,
               6.1e-10, 4.1e-10, 1.2e-9, 6.0e-10, 4.3e-10, 8.0e-10, 3.4e-9, 5.3e-10, 1.0e-9]
grb_flux_hi = [1.15e-7, 1.22e-7, 1.12e-7, 1.20e-7, 1.10e-7, 1.18e-7, 1.08e-7, 1.12e-7, 1.05e-7, 1.02e-7, 1.00e-7, 9.8e-8, 9.5e-8, 2.15e-7, 9.6e-8, 9.2e-8, 9.0e-8,
               1.2e-8, 9.5e-9, 8.1e-9, 6.4e-8, 2.1e-8, 1.3e-8, 7.5e-9, 8.5e-9, 7.0e-9, 1.44e-8, 8.7e-9, 7.5e-9,
               3.7e-9, 4.7e-9, 3.8e-9, 3.8e-9, 2.5e-9, 2.2e-9, 4.7e-9, 3.1e-9, 2.8e-9]

# axis ranges and labelled decades
t_range = (10 ** 1.455, 10 ** 7.27)
f_range = (10 ** -14.305, 10 ** -6.29)
t_decades = [1e2, 1e3, 1e4, 1e5, 1e6, 1e7]
f_decades = [1e-14, 1e-13, 1e-12, 1e-11, 1e-10, 1e-9, 1e-8, 1e-7]

PANEL = "#465269"
LIGHT = "#dcdfe4"
CYAN = "#00d3ee"

W, H = 1181, 1230
fig = plt.figure(figsize=(W / 100, H / 100), dpi=100)
fig.patch.set_facecolor("white")

# slate background panel
fig.add_artist(Rectangle((22 / W, 0), 1156 / W, 1147 / H, transform=fig.transFigure,
                         facecolor=PANEL, edgecolor="none", zorder=0))

ax = fig.add_axes([165 / W, 118 / H, 897 / W, 892 / H])
ax.patch.set_alpha(0)
ax.set_xscale("log")
ax.set_yscale("log")

for curve in archive_curves:
    arr = np.asarray(curve, dtype=float)
    ax.plot(10 ** arr[:, 0], 10 ** arr[:, 1], color="#939393", lw=1.8, alpha=0.92,
            solid_joinstyle="round", zorder=2)

flux = np.asarray(grb_flux)
yerr = [flux - np.asarray(grb_flux_lo), np.asarray(grb_flux_hi) - flux]
ax.errorbar(grb_t, flux, yerr=yerr, fmt="none", ecolor=CYAN, elinewidth=3.0,
            capsize=0, zorder=4)

ax.set_xlim(*t_range)
ax.set_ylim(*f_range)

ax.xaxis.set_major_locator(FixedLocator(t_decades))
ax.yaxis.set_major_locator(FixedLocator(f_decades))
for axis in (ax.xaxis, ax.yaxis):
    axis.set_minor_locator(LogLocator(base=10, subs=np.arange(2, 10), numticks=200))
    axis.set_minor_formatter(NullFormatter())

for side in ("left", "bottom", "top", "right"):
    ax.spines[side].set_color(LIGHT)
    ax.spines[side].set_linewidth(1.3)

ax.tick_params(which="both", colors=LIGHT, labelcolor="#e4e6ea", direction="out")
ax.tick_params(which="major", length=5, width=1.1, labelsize=16)
ax.tick_params(which="minor", length=3, width=0.9)
ax.tick_params(axis="x", which="major", pad=6)
ax.tick_params(axis="y", which="major", pad=5)

ax.set_title("GRB 221009A", color="#1fb5d5", fontsize=19.5, pad=9)
ax.set_xlabel("Time since burst [s]", color="#e4e6ea", fontsize=16)
ax.set_ylabel(r"Flux [erg cm$^{-2}$ s$^{-1}$]", color="#e4e6ea", fontsize=16)
ax.xaxis.set_label_coords(0.5, -0.055)
ax.xaxis.label.set_va("top")
ax.yaxis.set_label_coords(-0.104, 0.5)

# caption box
fig.add_artist(Rectangle((541 / W, 1 - 131 / H), 632 / W, 121 / H, transform=fig.transFigure,
                         facecolor="black", edgecolor="none", zorder=5))
plt.rcParams["mathtext.it"] = "Liberation Sans:italic"
plt.rcParams["mathtext.rm"] = "Liberation Sans"
cap_kw = dict(ha="center", va="baseline", color="white", fontsize=31.5,
              family="Liberation Sans", math_fontfamily="custom", zorder=6)
fig.text(857 / W, 1 - 63 / H, r"$\mathit{Swift}$-XRT light curve", **cap_kw)
fig.text(857 / W, 1 - 112 / H, r"(since $\mathit{Fermi}$-GBM trigger time)", **cap_kw)

fig.text(1163 / W, 1 - 1219 / H, "https://astro-colibri.com/", ha="right", va="baseline",
         color="white", fontsize=30.5, family="Liberation Sans", style="italic",
         weight="bold", zorder=6)

fig.savefig("out.png", dpi=100, facecolor=fig.get_facecolor())
